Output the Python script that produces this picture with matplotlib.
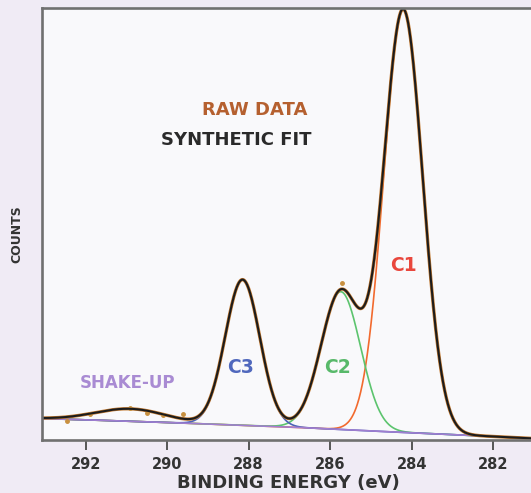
import numpy as np
import matplotlib
matplotlib.use("Agg")
import matplotlib.pyplot as plt

# peak fit (counts in arbitrary units, 0..1 = axis height)
peak_names = ["C1", "C2", "C3"]
peak_centers = [284.21, 285.74, 288.15]   # eV
peak_heights = [0.978, 0.319, 0.337]
peak_sigmas = [0.477, 0.485, 0.425]
peak_colors = ["#f26a2e", "#5cc46e", "#4b63b8"]

shakeup_center = 290.9
shakeup_height = 0.029
shakeup_sigma = 0.85

# background (shake-up / baseline) line
bg_energy = [293.1, 292, 291, 290, 289, 288, 287, 286, 285, 284, 283, 282, 281]
bg_counts = [0.0498, 0.0468, 0.0435, 0.0405, 0.0370, 0.0336, 0.0301, 0.0255, 0.0208, 0.0167, 0.0127, 0.0081, 0.0035]

# raw data points that stand off the fit
raw_energy = [292.45, 291.88, 290.90, 290.49, 290.10, 289.61, 285.71]
raw_counts = [0.0447, 0.060, 0.0734, 0.0618, 0.0579, 0.0602, 0.364]

xticks = [292, 290, 288, 286, 284, 282]


def gauss(x, c, h, s):
    return h * np.exp(-(x - c) ** 2 / (2 * s ** 2))


E = np.linspace(293.1, 280.9, 1500)
bg = np.interp(E, bg_energy[::-1], bg_counts[::-1])
comps = [gauss(E, c, h, s) for c, h, s in zip(peak_centers, peak_heights, peak_sigmas)]
shake = gauss(E, shakeup_center, shakeup_height, shakeup_sigma)
fit = bg + shake + sum(comps)

fig = plt.figure(figsize=(5.31, 4.93), dpi=100, facecolor="#f0ebf5")
ax = fig.add_axes([0.0782, 0.1075, 0.93, 0.8763], facecolor="#f9f9fb")

# components: C1 first so the baseline shows the later colours
for comp, col in zip(comps, peak_colors):
    ax.plot(E, bg + comp, color=col, lw=1.2)
ax.plot(E, bg, color="#a07ed0", lw=1.2)
ax.plot(E, fit, color="#c0782f", lw=2.4)
ax.plot(raw_energy, raw_counts, "o", color="#c8903f", ms=2.5)
ax.plot(E, fit, color="#1c1c1c", lw=1.5)

ax.set_xlim(293.08, 280.97)
ax.set_ylim(0, 1)
ax.set_xticks(xticks)
ax.set_yticks([])
ax.tick_params(axis="x", direction="out", length=7, width=1.4, color="#555555",
               pad=5, labelsize=10.5, labelcolor="#333333")
for lab in ax.get_xticklabels():
    lab.set_fontweight("bold")
for side in ["left", "top", "bottom"]:
    ax.spines[side].set_color("#707070")
    ax.spines[side].set_linewidth(1.9)
ax.spines["right"].set_visible(False)

ax.set_xlabel("BINDING ENERGY (eV)", fontsize=13, fontweight="bold", color="#333333", labelpad=2)
fig.text(17 / 531, 1 - 234 / 493, "COUNTS", rotation=90, ha="center", va="center",
         fontsize=9, fontweight="bold", color="#333333")

ax.text(0.538, 0.764, "RAW DATA", transform=ax.transAxes, ha="right", va="center",
        fontsize=13, fontweight="bold", color="#b5602f")
ax.text(0.5465, 0.694, "SYNTHETIC FIT", transform=ax.transAxes, ha="right", va="center",
        fontsize=13, fontweight="bold", color="#2a2a2a")
ax.text(0.732, 0.405, "C1", transform=ax.transAxes, ha="center", va="center",
        fontsize=13.5, fontweight="bold", color="#e9473d")
ax.text(0.600, 0.1667, "C2", transform=ax.transAxes, ha="center", va="center",
        fontsize=13.5, fontweight="bold", color="#58b96a")
ax.text(0.403, 0.1667, "C3", transform=ax.transAxes, ha="center", va="center",
        fontsize=13.5, fontweight="bold", color="#5068bd")
ax.text(0.1747, 0.133, "SHAKE-UP", transform=ax.transAxes, ha="center", va="center",
        fontsize=12, fontweight="bold", color="#a98bd3")

fig.savefig("out.png", dpi=100, facecolor=fig.get_facecolor())
